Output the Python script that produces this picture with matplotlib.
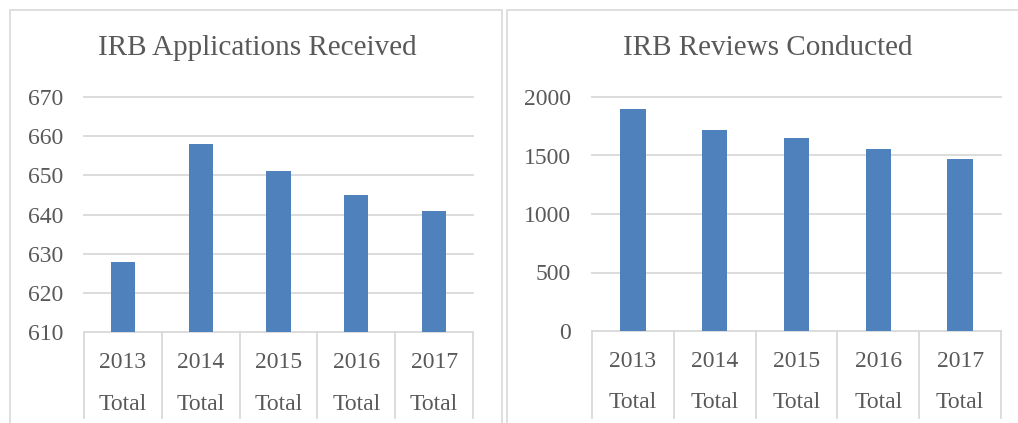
import matplotlib
matplotlib.use('Agg')
import matplotlib.pyplot as plt
from matplotlib.patches import Rectangle

years = ['2013', '2014', '2015', '2016', '2017']
sub_label = 'Total'
applications = [628, 658, 651, 645, 641]
reviews = [1895, 1720, 1650, 1555, 1470]

W, H = 1018, 423
BAR = '#4F81BD'
GRID = '#D9D9D9'
TXT = '#595959'

plt.rcParams['font.family'] = ['Liberation Serif', 'DejaVu Serif']

fig = plt.figure(figsize=(W / 100, H / 100), dpi=100)


def frame(x0, x1):
    # chart-area border, runs off the bottom of the image
    fig.patches.append(Rectangle((x0 / W, -0.05), (x1 - x0) / W, 1.05 - 10 / H,
                                 transform=fig.transFigure, fill=False,
                                 edgecolor=GRID, linewidth=1.2))


def chart(px0, px1, base, top, values, ylim, step, title, title_x):
    ax = fig.add_axes([px0 / W, (H - base) / H, (px1 - px0) / W, (base - top) / H])
    x = range(len(years))
    ax.bar(x, values, width=0.31, color=BAR, zorder=3)
    ax.set_xlim(-0.5, len(years) - 0.5)
    ax.set_ylim(*ylim)
    ticks = list(range(ylim[0], ylim[1] + 1, step))
    ax.set_yticks(ticks)
    ax.set_yticklabels([str(t) for t in ticks], fontsize=17, color=TXT)
    ax.tick_params(axis='y', length=0, pad=15)
    ax.set_xticks([])
    for t in ticks[1:]:
        ax.axhline(t, color=GRID, linewidth=1.3, zorder=1, clip_on=False)
    for s in ['top', 'right', 'left']:
        ax.spines[s].set_visible(False)
    ax.spines['bottom'].set_color(GRID)
    ax.spines['bottom'].set_linewidth(1.3)
    tr = ax.get_xaxis_transform()
    hgt = base - top
    for i in range(len(years) + 1):
        ax.plot([i - 0.5, i - 0.5], [0, -(418 - base) / hgt], color=GRID,
                linewidth=1.3, transform=tr, clip_on=False)
    for i, yr in enumerate(years):
        ax.text(i, -30 / hgt, yr, transform=tr, ha='center', va='center',
                fontsize=17, color=TXT)
        ax.text(i, -(72 if base > 331 else 71) / hgt, sub_label, transform=tr,
                ha='center', va='center', fontsize=17, color=TXT)
    fig.text(title_x / W, (H - 48) / H, title, ha='center', va='center',
             fontsize=21, color=TXT)
    return ax


frame(10, 502)
frame(507, 1030)

chart(84, 473, 332, 97, applications, (610, 670), 10,
      'IRB Applications Received', 257)
chart(592, 1001, 331, 97, reviews, (0, 2000), 500,
      'IRB Reviews Conducted', 768)

fig.savefig('out.png', dpi=100, facecolor='white')
